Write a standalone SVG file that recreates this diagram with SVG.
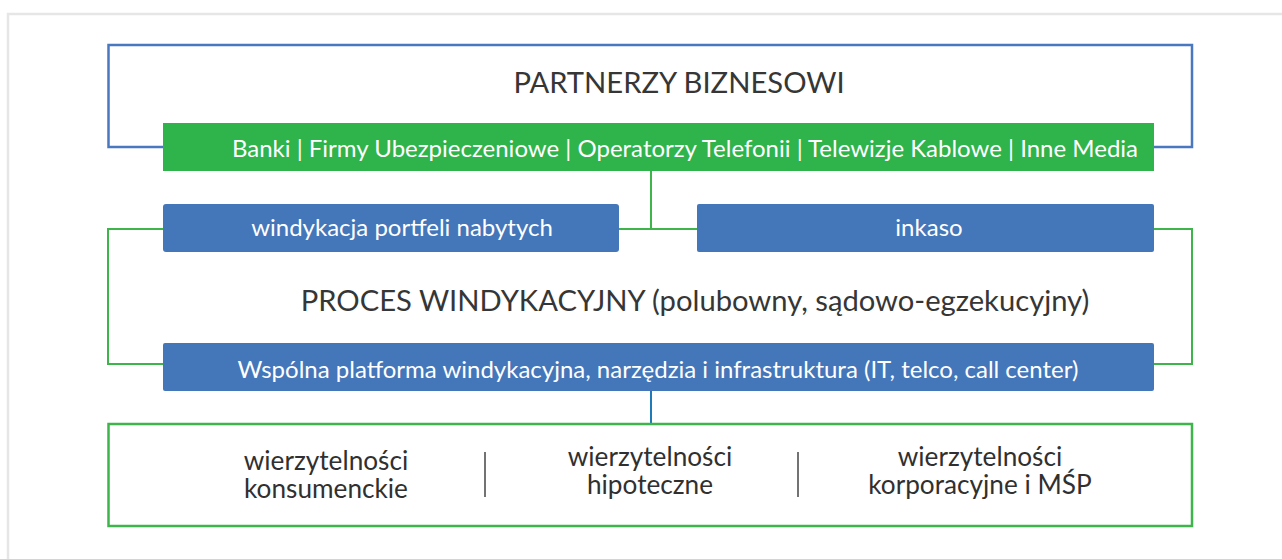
<svg xmlns="http://www.w3.org/2000/svg" width="1282" height="559" viewBox="0 0 1282 559">
  <style>
    .bar-green { fill: #2fb34b; }
    .bar-blue { fill: #4476ba; }
    .frame-blue { fill: none; stroke: #4a78c0; stroke-width: 2.5; }
    .frame-green { fill: none; stroke: #3db54a; stroke-width: 2.5; }
    .link-green { fill: none; stroke: #3db54a; stroke-width: 2; }
    .link-blue { fill: none; stroke: #1f7ab8; stroke-width: 2; }
    text { font-family: Lato, "Liberation Sans", sans-serif; text-anchor: middle; }
    .txt-white { font-size: 24px; fill: #ffffff; }
    .txt-title { font-size: 29.2px; fill: #363636; }
    .txt-dark { font-size: 26.2px; fill: #303030; }
    .divider { stroke: #444444; stroke-width: 1.5; }
  </style>

  <!-- page background and outer frame -->
  <rect x="0" y="0" width="1282" height="559" fill="#ffffff"/>
  <rect x="8" y="14" width="1290" height="560" fill="none" stroke="#e6e6e6" stroke-width="2.5"/>

  <!-- connectors -->
  <g id="connectors">
    <polyline class="link-green" points="651,171 651,229"/>
    <polyline class="link-green" points="619,229 697,229"/>
    <polyline class="link-green" points="163,229 108,229 108,364 163,364"/>
    <polyline class="link-green" points="1154,229 1192,229 1192,364 1154,364"/>
    <polyline class="link-blue" points="651,391 651,424"/>
  </g>

  <!-- business partners -->
  <g id="partners">
    <rect class="frame-blue" x="108.5" y="45" width="1083.5" height="102"/>
    <text class="txt-title" x="679" y="93">PARTNERZY BIZNESOWI</text>
  </g>

  <g id="partner-list">
    <rect class="bar-green" x="163" y="123" width="991" height="48"/>
    <text class="txt-white" x="685" y="157">Banki | Firmy Ubezpieczeniowe | Operatorzy Telefonii | Telewizje Kablowe | Inne Media</text>
  </g>

  <g id="portfolio">
    <rect class="bar-blue" x="163" y="204" width="456" height="48" rx="3"/>
    <text class="txt-white" x="402" y="236">windykacja portfeli nabytych</text>
  </g>

  <g id="collection">
    <rect class="bar-blue" x="697" y="204" width="457" height="48" rx="2"/>
    <text class="txt-white" x="929" y="236">inkaso</text>
  </g>

  <g id="process">
    <text class="txt-title" x="695" y="311">PROCES WINDYKACYJNY (polubowny, sądowo-egzekucyjny)</text>
  </g>

  <g id="platform">
    <rect class="bar-blue" x="163" y="343" width="991" height="48" rx="2"/>
    <text class="txt-white" x="658" y="378">Wspólna platforma windykacyjna, narzędzia i infrastruktura (IT, telco, call center)</text>
  </g>

  <g id="receivables">
    <rect class="frame-green" x="108.5" y="424" width="1083.5" height="102"/>
    <text class="txt-dark" x="326" y="470">wierzytelności</text>
    <text class="txt-dark" x="326" y="498">konsumenckie</text>
    <line class="divider" x1="485" y1="452" x2="485" y2="497"/>
    <text class="txt-dark" x="650" y="466">wierzytelności</text>
    <text class="txt-dark" x="650" y="494">hipoteczne</text>
    <line class="divider" x1="798" y1="452" x2="798" y2="497"/>
    <text class="txt-dark" x="980" y="466">wierzytelności</text>
    <text class="txt-dark" x="980" y="494">korporacyjne i MŚP</text>
  </g>
</svg>
